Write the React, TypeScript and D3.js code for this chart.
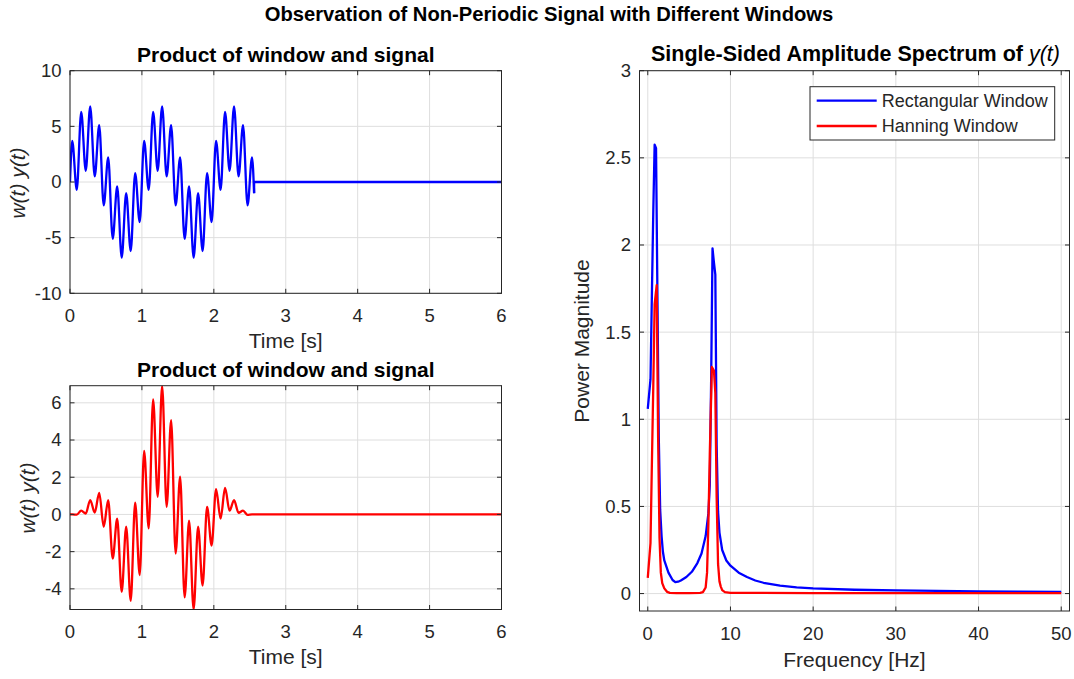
import React, { useEffect } from 'react';
import * as d3 from 'd3';

// ---------- data ----------
const timeTicks = [0, 1, 2, 3, 4, 5, 6];
const topYTicks = [-10, -5, 0, 5, 10];
const botYTicks = [-4, -2, 0, 2, 4, 6];
const freqTicks = [0, 10, 20, 30, 40, 50];
const magTicks = [0, 0.5, 1, 1.5, 2, 2.5, 3];

// rectangular-window signal: local extrema (s, value)
const sigTimes = [0, 0.031, 0.094, 0.156, 0.219, 0.281, 0.344, 0.406, 0.469, 0.531, 0.594, 0.656, 0.719, 0.781, 0.844, 0.906, 0.969,
  1.031, 1.094, 1.156, 1.219, 1.281, 1.344, 1.406, 1.469, 1.531, 1.594, 1.656, 1.719, 1.781, 1.844, 1.906, 1.969,
  2.031, 2.094, 2.156, 2.219, 2.281, 2.344, 2.406, 2.469, 2.531, 2.56];
const rectSignal = [0, 3.7, -0.7, 6.3, 1.0, 6.8, 0.5, 5.1, -2.1, 2.2, -5.1, -0.4, -6.8, -1.0, -6.2, 0.8, -3.6,
  3.7, -0.7, 6.3, 1.0, 6.8, 0.5, 5.1, -2.1, 2.2, -5.1, -0.4, -6.8, -1.0, -6.2, 0.8, -3.6,
  3.7, -0.7, 6.3, 1.0, 6.8, 0.5, 5.1, -2.1, 2.2, -1.0];
const rectTailTimes = [2.56, 2.56, 6];
const rectTailValues = [-1.0, 0, 0];

// Hanning-window signal
const hannTimes = [0, 0.031, 0.094, 0.156, 0.219, 0.281, 0.344, 0.406, 0.469, 0.531, 0.594, 0.656, 0.719, 0.781, 0.844, 0.906, 0.969,
  1.031, 1.094, 1.156, 1.219, 1.281, 1.344, 1.406, 1.469, 1.531, 1.594, 1.656, 1.719, 1.781, 1.844, 1.906, 1.969,
  2.031, 2.094, 2.156, 2.219, 2.281, 2.344, 2.406, 2.469, 2.531, 6];
const hannSignal = [0, 0, -0.01, 0.2, 0.05, 0.77, 0.1, 1.16, -0.66, 0.77, -2.37, -0.23, -4.16, -0.66, -4.64, 0.63, -3.26,
  3.42, -0.75, 6.18, 0.95, 6.92, 0.41, 5.07, -2.1, 2.03, -4.46, -0.34, -5.11, -0.66, -3.82, 0.41, -1.67,
  1.36, -0.23, 1.42, 0.2, 0.77, 0.09, 0.2, -0.02, 0, 0];

// spectra
const rectFreq = [0, 0.33, 0.5, 0.67, 0.83, 1.0, 1.17, 1.33, 1.5, 1.67, 1.83, 2.0, 2.5, 3.0, 3.33, 3.67, 4.0, 4.67, 5.33, 6.0,
  6.5, 7.0, 7.33, 7.5, 7.67, 7.83, 8.0, 8.17, 8.33, 8.5, 8.67, 9.0, 9.5, 10, 11, 12, 13, 14, 16, 18, 20, 25, 30, 35, 40, 45, 50];
const rectMag = [1.06, 1.23, 1.72, 2.2, 2.575, 2.555, 1.7, 0.9, 0.48, 0.33, 0.24, 0.19, 0.12, 0.078, 0.066, 0.068, 0.075, 0.095, 0.125, 0.175,
  0.23, 0.33, 0.46, 0.62, 1.25, 1.98, 1.9, 1.83, 0.85, 0.47, 0.35, 0.25, 0.19, 0.16, 0.12, 0.095, 0.075, 0.062, 0.046, 0.036,
  0.03, 0.022, 0.018, 0.015, 0.013, 0.011, 0.01];
const hannFreq = [0, 0.33, 0.5, 0.67, 0.83, 1.08, 1.25, 1.42, 1.58, 1.75, 2.0, 2.33, 2.67, 3.5, 5.0, 6.33, 6.67, 7.0, 7.17, 7.33,
  7.5, 7.75, 8.0, 8.17, 8.33, 8.5, 8.67, 8.83, 9.0, 9.33, 10, 20, 30, 40, 50];
const hannMag = [0.09, 0.29, 0.75, 1.2, 1.66, 1.77, 0.9, 0.32, 0.12, 0.06, 0.03, 0.01, 0.004, 0.002, 0.002, 0.004, 0.008, 0.035, 0.12, 0.4,
  0.8, 1.3, 1.28, 1.15, 0.55, 0.17, 0.07, 0.04, 0.02, 0.008, 0.004, 0.003, 0.003, 0.003, 0.003];

const legendLabels = ['Rectangular Window', 'Hanning Window'];

// ---------- style ----------
const FONT = '"Liberation Sans", Arial, Helvetica, sans-serif';
const AXC = '#262626';
const GRIDC = '#dedede';
const TICK_FS = 18.5;
const LABEL_FS = 21;
const TITLE_FS = 21;
const BLUE = '#0000ff';
const RED = '#ff0000';
const LW = 2.3;

type Scale = d3.ScaleLinear<number, number>;

function Frame(props: {
  id: string; x: Scale; y: Scale; xTicks: number[]; yTicks: number[]; children?: React.ReactNode;
}) {
  const { id, x, y, xTicks, yTicks, children } = props;
  const [x0, x1] = x.range();
  const [yb, yt] = y.range();
  const tl = 4.5;
  return (
    <g>
      <defs>
        <clipPath id={id}>
          <rect x={x0} y={yt} width={x1 - x0} height={yb - yt} />
        </clipPath>
      </defs>
      <rect x={x0} y={yt} width={x1 - x0} height={yb - yt} fill="#fff" />
      {xTicks.map((t) => (
        <line key={'gx' + t} x1={x(t)} x2={x(t)} y1={yt} y2={yb} stroke={GRIDC} strokeWidth={1} />
      ))}
      {yTicks.map((t) => (
        <line key={'gy' + t} x1={x0} x2={x1} y1={y(t)} y2={y(t)} stroke={GRIDC} strokeWidth={1} />
      ))}
      <g clipPath={`url(#${id})`}>{children}</g>
      <rect x={x0} y={yt} width={x1 - x0} height={yb - yt} fill="none" stroke={AXC} strokeWidth={1} />
      {xTicks.map((t) => (
        <g key={'tx' + t}>
          <line x1={x(t)} x2={x(t)} y1={yb} y2={yb - tl} stroke={AXC} />
          <line x1={x(t)} x2={x(t)} y1={yt} y2={yt + tl} stroke={AXC} />
          <text x={x(t)} y={yb + 28.5} textAnchor="middle" fontSize={TICK_FS} fill={AXC} fontFamily={FONT}>{String(t)}</text>
        </g>
      ))}
      {yTicks.map((t) => (
        <g key={'ty' + t}>
          <line x1={x0} x2={x0 + tl} y1={y(t)} y2={y(t)} stroke={AXC} />
          <line x1={x1} x2={x1 - tl} y1={y(t)} y2={y(t)} stroke={AXC} />
          <text x={x0 - 8.5} y={y(t)} dy="0.35em" textAnchor="end" fontSize={TICK_FS} fill={AXC} fontFamily={FONT}>{String(t)}</text>
        </g>
      ))}
    </g>
  );
}

export default function App() {
  useEffect(() => {
    document.body.style.margin = '0';
    document.body.style.overflow = 'hidden';
  }, []);

  const W = 1074, H = 679;
  const L0 = 70, L1 = 501.5;
  const xTime = d3.scaleLinear().domain([0, 6]).range([L0, L1]);
  const yTop = d3.scaleLinear().domain([-10, 10]).range([293.3, 70.7]);
  const hannExt = d3.extent(hannSignal) as [number, number];
  const yBot = d3.scaleLinear().domain(hannExt).range([609.5, 385.7]);
  const xFreq = d3.scaleLinear().domain([-1, 51]).range([639.5, 1069.5]);
  const yMag = d3.scaleLinear().domain([-0.1, 3]).range([611, 70.7]);

  const topLine = d3.line<number>().x((_, i) => xTime(sigTimes[i])).y((v) => yTop(v)).curve(d3.curveMonotoneX);
  const topTail = d3.line<number>().x((_, i) => xTime(rectTailTimes[i])).y((v) => yTop(v));
  const botLine = d3.line<number>().x((_, i) => xTime(hannTimes[i])).y((v) => yBot(v)).curve(d3.curveMonotoneX);
  const rectSpec = d3.line<number>().x((_, i) => xFreq(rectFreq[i])).y((v) => yMag(v));
  const hannSpec = d3.line<number>().x((_, i) => xFreq(hannFreq[i])).y((v) => yMag(v));

  const topCx = (L0 + L1) / 2;
  const rightCx = (639.5 + 1069.5) / 2;

  return (
    <svg width={W} height={H} style={{ position: 'absolute', left: 0, top: 0, display: 'block', background: '#fff' }} fontFamily={FONT}>
      <rect x={0} y={0} width={W} height={H} fill="#fff" />
      <text x={549} y={21} textAnchor="middle" fontSize={20.2} fontWeight="bold" fill="#000">
        Observation of Non-Periodic Signal with Different Windows
      </text>

      {/* top-left */}
      <Frame id="c1" x={xTime} y={yTop} xTicks={timeTicks} yTicks={topYTicks}>
        <path d={topLine(rectSignal) || ''} fill="none" stroke={BLUE} strokeWidth={LW} strokeLinejoin="round" />
        <path d={topTail(rectTailValues) || ''} fill="none" stroke={BLUE} strokeWidth={LW} />
      </Frame>
      <text x={topCx} y={61.5} textAnchor="middle" fontSize={TITLE_FS} fontWeight="bold" fill="#000">Product of window and signal</text>
      <text x={topCx} y={347.5} textAnchor="middle" fontSize={LABEL_FS} fill={AXC}>Time [s]</text>
      <text transform={`translate(25,183) rotate(-90)`} textAnchor="middle" fontSize={LABEL_FS} fill={AXC} fontStyle="italic">w(t) y(t)</text>

      {/* bottom-left */}
      <Frame id="c2" x={xTime} y={yBot} xTicks={timeTicks} yTicks={botYTicks}>
        <path d={botLine(hannSignal) || ''} fill="none" stroke={RED} strokeWidth={LW} strokeLinejoin="round" />
      </Frame>
      <text x={topCx} y={377.3} textAnchor="middle" fontSize={TITLE_FS} fontWeight="bold" fill="#000">Product of window and signal</text>
      <text x={topCx} y={664} textAnchor="middle" fontSize={LABEL_FS} fill={AXC}>Time [s]</text>
      <text transform={`translate(35,498) rotate(-90)`} textAnchor="middle" fontSize={LABEL_FS} fill={AXC} fontStyle="italic">w(t) y(t)</text>

      {/* right */}
      <Frame id="c3" x={xFreq} y={yMag} xTicks={freqTicks} yTicks={magTicks}>
        <path d={rectSpec(rectMag) || ''} fill="none" stroke={BLUE} strokeWidth={LW} strokeLinejoin="round" />
        <path d={hannSpec(hannMag) || ''} fill="none" stroke={RED} strokeWidth={LW} strokeLinejoin="round" />
      </Frame>
      <text x={rightCx + 1} y={61} textAnchor="middle" fontSize={21.5} fill="#000">
        <tspan fontWeight="bold">Single-Sided Amplitude Spectrum of </tspan>
        <tspan fontStyle="italic">y(t)</tspan>
      </text>
      <text x={rightCx} y={667} textAnchor="middle" fontSize={LABEL_FS} fill={AXC}>Frequency [Hz]</text>
      <text transform={`translate(589,341) rotate(-90)`} textAnchor="middle" fontSize={LABEL_FS} fill={AXC}>Power Magnitude</text>

      {/* legend */}
      <g>
        <rect x={810} y={86.7} width={244.7} height={53.3} fill="#fff" stroke={AXC} strokeWidth={1} />
        {legendLabels.map((lab, i) => {
          const yy = 100.7 + i * 25.3;
          return (
            <g key={lab}>
              <line x1={816.7} x2={876.7} y1={yy} y2={yy} stroke={i === 0 ? BLUE : RED} strokeWidth={LW} />
              <text x={881.7} y={yy} dy="0.35em" fontSize={18} fill={AXC}>{lab}</text>
            </g>
          );
        })}
      </g>
    </svg>
  );
}
